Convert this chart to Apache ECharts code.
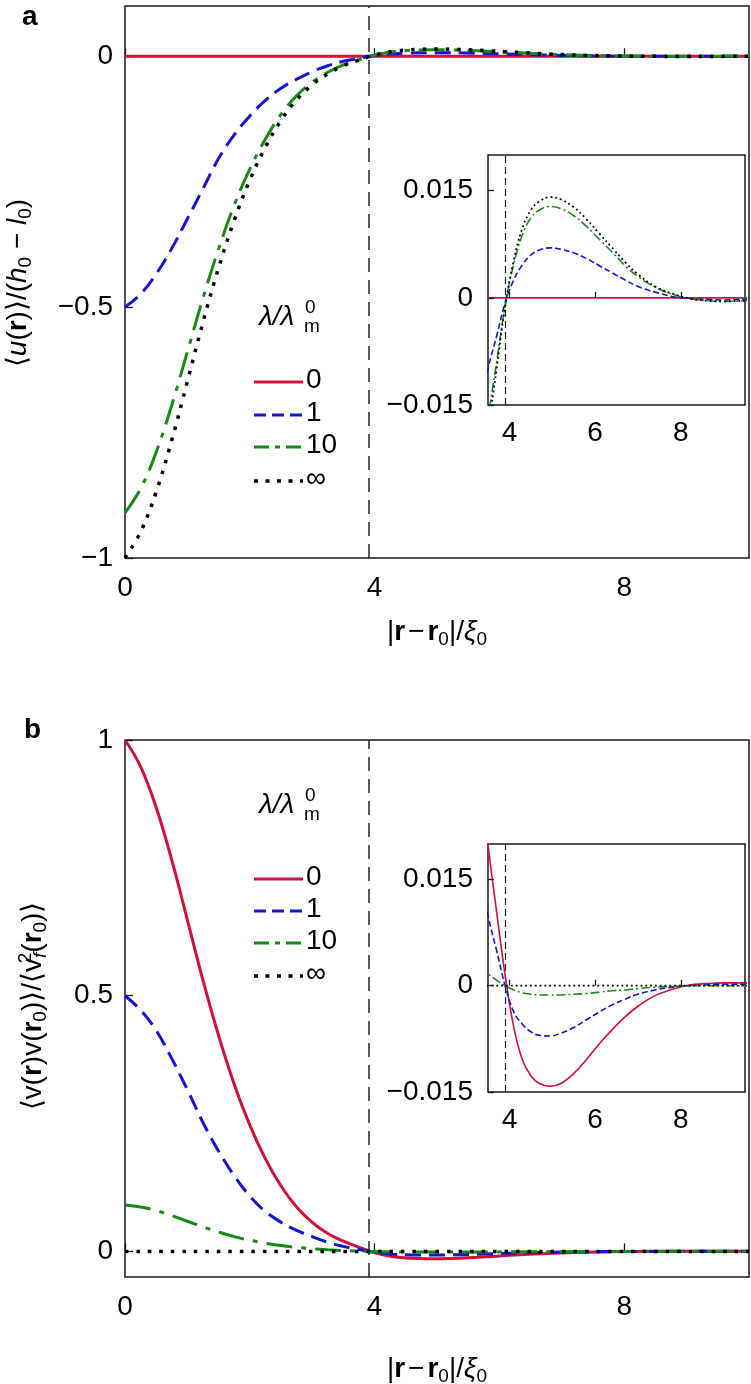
<!DOCTYPE html>
<html>
<head>
<meta charset="utf-8">
<script src="https://cdn.jsdelivr.net/npm/echarts@6/dist/echarts.min.js"></script>
<style>
html,body{margin:0;padding:0;background:#fff;}
#c{width:751px;height:1384px;}
</style>
</head>
<body>
<div id="c"></div>
<script>
// ---- data ----
const r = [0,0.25,0.5,0.75,1,1.25,1.5,1.75,2,2.25,2.5,2.75,3,3.25,3.5,3.7,3.9,4.1,4.3,4.5,4.7,4.95,5.2,5.5,5.8,6.1,6.4,6.7,7.0,7.4,7.8,8.2,8.6,9.0,9.5,10];
// panel a: <u(r)>/(h0-l0)
const rFlat = [0, 10];
const uLam0 = [0, 0];
const uLam1 = [-0.500,-0.474,-0.434,-0.383,-0.324,-0.264,-0.204,-0.157,-0.119,-0.088,-0.064,-0.046,-0.031,-0.019,-0.0100,-0.0054,-0.0007,0.0025,0.0046,0.0060,0.0067,0.0070,0.0068,0.0063,0.0055,0.0045,0.0035,0.0025,0.0016,0.0008,0.0002,-0.0001,-0.0002,-0.0003,-0.0002,-0.0002];
const uLam10 = [-0.910,-0.862,-0.789,-0.695,-0.589,-0.482,-0.384,-0.297,-0.225,-0.165,-0.116,-0.079,-0.052,-0.032,-0.0173,-0.0091,-0.0011,0.0047,0.0088,0.0112,0.0123,0.0128,0.0125,0.0115,0.0100,0.0082,0.0064,0.0045,0.0030,0.0015,0.0005,-0.0001,-0.0004,-0.0005,-0.0004,-0.0003];
const uLamInf = [-1.000,-0.948,-0.868,-0.765,-0.648,-0.530,-0.422,-0.327,-0.247,-0.181,-0.128,-0.087,-0.057,-0.035,-0.019,-0.0100,-0.0012,0.0052,0.0097,0.0123,0.0135,0.0141,0.0138,0.0127,0.0110,0.0090,0.0070,0.0050,0.0033,0.0016,0.0006,-0.0001,-0.0004,-0.0005,-0.0004,-0.0003];
// panel b: <v(r)v(r0)>/<vf^2(r0)>
const vLam0 = [1.000,0.948,0.868,0.765,0.648,0.530,0.422,0.327,0.247,0.181,0.128,0.087,0.057,0.035,0.020,0.0105,0.0015,-0.0058,-0.0104,-0.0127,-0.0138,-0.0142,-0.0138,-0.0124,-0.0104,-0.0082,-0.0062,-0.0044,-0.0029,-0.0014,-0.0005,0.0001,0.0003,0.0004,0.0004,0.0003];
const vLam1 = [0.500,0.472,0.432,0.377,0.316,0.252,0.196,0.148,0.108,0.078,0.057,0.041,0.029,0.018,0.0099,0.0050,0.0000,-0.0037,-0.0054,-0.0065,-0.0070,-0.0071,-0.0067,-0.0059,-0.0048,-0.0037,-0.0027,-0.0019,-0.0012,-0.0006,-0.0002,0.0000,0.0001,0.0002,0.0002,0.0002];
const vLam10 = [0.091,0.087,0.080,0.070,0.059,0.048,0.038,0.029,0.022,0.016,0.0115,0.0080,0.0053,0.0033,0.0017,0.0008,0.0000,-0.0006,-0.0010,-0.0012,-0.0013,-0.0013,-0.0013,-0.0012,-0.0011,-0.0009,-0.0007,-0.0006,-0.0004,-0.0002,-0.0001,0.0000,0.0000,0.0000,0.0000,0.0000];
const vLamInf = [0, 0];
const vLine = 3.9;
// ticks
const xTicks = [0, 4, 8];
const yTicksA = [-1, -0.5, 0];
const yTicksB = [0, 0.5, 1];
const insetXTicks = [4, 6, 8];
const insetYTicks = [-0.015, 0, 0.015];
const legendLabels = ['0', '1', '10', '∞'];

// ---- styling ----
const FONT = "'Liberation Sans', Arial, Helvetica, sans-serif";
const RED = '#d0103a', BLUE = '#1414d4', GREEN = '#158a15', BLACK = '#000';
const FS = 28;
const fmt = v => v === 0 ? '0' : (v < 0 ? '−' + String(-v) : String(v));
const pairs = (xs, ys) => xs.map((x, i) => [x, ys[i]]);

const mainStyles = [
  {color: RED, width: 3, type: 'solid'},
  {color: BLUE, width: 3, type: [16, 8]},
  {color: GREEN, width: 3, type: [26, 9, 5, 9]},
  {color: BLACK, width: 3.5, type: [3.5, 8]}
];
const insetStyles = [
  {color: RED, width: 1.6, type: 'solid'},
  {color: BLUE, width: 1.6, type: [6, 3]},
  {color: GREEN, width: 1.6, type: [9, 3, 2, 3]},
  {color: BLACK, width: 1.8, type: [1.8, 3]}
];

const grids = [
  {left: 125, top: 6, width: 624, height: 552},
  {left: 488, top: 155, width: 257, height: 250},
  {left: 125, top: 740, width: 624, height: 537},
  {left: 488, top: 844, width: 257, height: 248}
].map((g, i) => Object.assign(g, {
  show: true, borderColor: '#1a1a1a', borderWidth: 1.5,
  backgroundColor: '#fff', z: (i % 2) ? 5 : 0, containLabel: false
}));

function xAxisCfg(gi, min, max, ticks, inset) {
  return {
    type: 'value', gridIndex: gi, min: min, max: max, z: inset ? 7 : 1,
    axisLine: {show: false}, splitLine: {show: false},
    axisTick: {show: true, inside: true, length: inset ? 6 : 8, customValues: ticks,
      lineStyle: {color: '#1a1a1a', width: 1.3}},
    axisLabel: {customValues: ticks, formatter: fmt, color: '#000', fontFamily: FONT,
      fontSize: FS, margin: inset ? 14 : 16}
  };
}
function yAxisCfg(gi, min, max, ticks, inset) {
  return {
    type: 'value', gridIndex: gi, min: min, max: max, z: inset ? 7 : 1,
    axisLine: {show: false}, splitLine: {show: false},
    axisTick: {show: true, inside: true, length: inset ? 6 : 8, customValues: ticks,
      lineStyle: {color: '#1a1a1a', width: 1.3}},
    axisLabel: {customValues: ticks, formatter: fmt, color: '#000', fontFamily: FONT,
      fontSize: FS, margin: inset ? 15 : 12}
  };
}

const xAxes = [
  xAxisCfg(0, 0, 10, xTicks, false),
  xAxisCfg(1, 3.5, 9.5, insetXTicks, true),
  xAxisCfg(2, 0, 10, xTicks, false),
  xAxisCfg(3, 3.5, 9.5, insetXTicks, true)
];
const yAxes = [
  yAxisCfg(0, -1, 0.1, yTicksA, false),
  yAxisCfg(1, -0.015, 0.02, insetYTicks, true),
  yAxisCfg(2, -0.05, 1, yTicksB, false),
  yAxisCfg(3, -0.015, 0.02, insetYTicks, true)
];

const setsA = [[rFlat, uLam0], [r, uLam1], [r, uLam10], [r, uLamInf]];
const setsB = [[r, vLam0], [r, vLam1], [r, vLam10], [rFlat, vLamInf]];
const series = [];
function addSeries(sets, axisIdx, inset) {
  const styles = inset ? insetStyles : mainStyles;
  sets.forEach((s, i) => {
    const st = styles[i];
    series.push({
      type: 'line', xAxisIndex: axisIdx, yAxisIndex: axisIdx,
      data: pairs(s[0], s[1]), showSymbol: false, symbol: 'none',
      smooth: 0.4, clip: true, z: inset ? 6 : 2,
      lineStyle: {color: st.color, width: st.width, type: st.type, cap: 'butt'},
      silent: true,
      markLine: i === 0 ? {
        silent: true, symbol: 'none', label: {show: false}, animation: false,
        lineStyle: {color: '#222', width: inset ? 1.2 : 1.5, type: inset ? [7, 4] : [14, 8]},
        data: [{xAxis: vLine}]
      } : undefined
    });
  });
}
addSeries(setsA, 0, false);
addSeries(setsA, 1, true);
addSeries(setsB, 2, false);
addSeries(setsB, 3, true);

// ---- text & legend graphics ----
const TF = 28;
const richBase = {
  i: {fontStyle: 'italic', fontSize: TF, fontFamily: FONT},
  b: {fontWeight: 'bold', fontSize: TF, fontFamily: FONT},
  m: {fontSize: TF, fontFamily: FONT, padding: [0, 3, 0, 3]},
  sub: {fontSize: 19, fontFamily: FONT, verticalAlign: 'bottom'},
  isub: {fontSize: 19, fontFamily: FONT, fontStyle: 'italic', verticalAlign: 'bottom'},
  sup: {fontSize: 19, fontFamily: FONT, verticalAlign: 'top', width: 0},
  n: {fontSize: TF, fontFamily: FONT}
};
function richText(x, y, text, opts) {
  return Object.assign({
    type: 'text', x: x, y: y, silent: true, z: 20,
    style: {text: text, rich: richBase, font: TF + 'px ' + FONT, fill: '#000',
      align: 'center', verticalAlign: 'middle', lineHeight: 34}
  }, opts || {});
}
const graphics = [];
// panel letters
graphics.push({type: 'text', left: 22, top: 3, silent: true,
  style: {text: 'a', font: 'bold 28px ' + FONT, fill: '#000'}});
graphics.push({type: 'text', left: 24, top: 716, silent: true,
  style: {text: 'b', font: 'bold 28px ' + FONT, fill: '#000'}});
// x titles
const xTitle = '|{b|r}{m|−}{b|r}{sub|0}|/{i|ξ}{sub|0}';
graphics.push(richText(437, 632, xTitle));
graphics.push(richText(437, 1369, xTitle));
// y titles
graphics.push(richText(18, 283, '⟨{i|u}({b|r})⟩/({i|h}{sub|0} − {i|l}{sub|0})', {rotation: Math.PI / 2}));
graphics.push(richText(33, 1006, '⟨v({b|r})v({b|r}{sub|0})⟩/⟨v{sup|2}{isub|f}({b|r}{sub|0})⟩', {rotation: Math.PI / 2}));

function legend(titleY, rowYs) {
  // title λ/λ_m^0
  graphics.push({type: 'text', left: 259, top: titleY, silent: true, z: 20,
    style: {text: 'λ/λ', font: 'italic ' + FS + 'px ' + FONT, fill: '#000'}});
  graphics.push({type: 'text', left: 305, top: titleY - 5, silent: true, z: 20,
    style: {text: '0', font: '19px ' + FONT, fill: '#000'}});
  graphics.push({type: 'text', left: 304, top: titleY + 14, silent: true, z: 20,
    style: {text: 'm', font: '19px ' + FONT, fill: '#000'}});
  rowYs.forEach((y, i) => {
    const st = mainStyles[i];
    const dash = [null, [12, 6], [15, 6, 5, 6], [4, 7.5]][i];
    graphics.push({type: 'line', silent: true, z: 20,
      shape: {x1: 254, y1: y, x2: 303, y2: y},
      style: {stroke: st.color, lineWidth: i === 3 ? 3.5 : 3, lineDash: dash, lineCap: 'butt'}});
    graphics.push({type: 'text', left: 306, top: y - 16, silent: true, z: 20,
      style: {text: legendLabels[i], font: FS + 'px ' + FONT, fill: '#000'}});
  });
}
legend(303, [382, 415, 447, 481]);
legend(791, [879, 911, 943, 976]);

const chart = echarts.init(document.getElementById('c'), null, {renderer: 'canvas'});
chart.setOption({
  animation: false,
  backgroundColor: '#fff',
  grid: grids,
  xAxis: xAxes,
  yAxis: yAxes,
  series: series,
  graphic: {elements: graphics}
});
</script>
</body>
</html>
